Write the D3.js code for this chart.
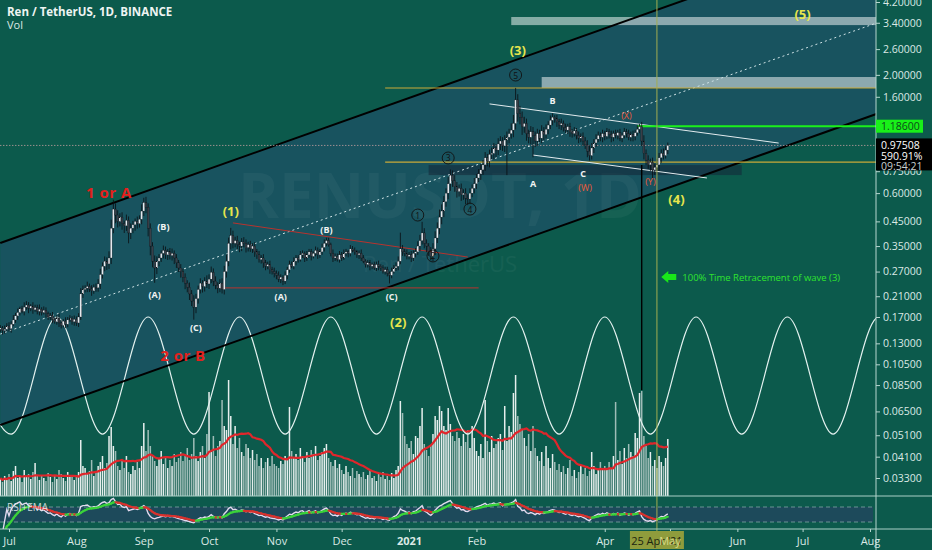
<!DOCTYPE html>
<html>
<head>
<meta charset="utf-8">
<script src="https://cdn.jsdelivr.net/npm/d3@7"></script>
<style>
body { margin: 0; background: #0c5a4c; overflow: hidden; }
svg { display: block; font-family: "Open Sans", "DejaVu Sans", sans-serif; }
</style>
</head>
<body>
<svg width="932" height="550"></svg>
<script>
// daily closes, REN/USDT from 27 Jun 2020
var closes = [
  0.152,0.148,0.150,0.155,
  // Jul
  0.151,0.158,0.165,0.172,0.178,0.185,0.180,0.188,0.192,0.186,0.190,0.183,0.187,0.180,0.184,0.178,0.182,0.176,0.170,0.172,0.166,0.162,0.168,0.160,0.156,0.163,0.158,0.165,0.168,0.162,0.166,
  // Aug
  0.160,0.170,0.215,0.225,0.228,0.232,0.226,0.222,0.230,0.229,0.238,0.262,0.285,0.300,0.292,0.310,0.420,0.510,0.48,0.45,0.47,0.44,0.43,0.455,0.40,0.42,0.435,0.45,0.44,0.46,0.50,
  // Sep
  0.545,0.52,0.42,0.35,0.30,0.28,0.30,0.31,0.325,0.335,0.32,0.33,0.318,0.325,0.31,0.295,0.28,0.27,0.255,0.24,0.23,0.215,0.20,0.188,0.205,0.225,0.24,0.232,0.245,0.238,
  // Oct
  0.25,0.268,0.245,0.235,0.228,0.24,0.225,0.27,0.30,0.36,0.39,0.36,0.37,0.355,0.35,0.365,0.36,0.345,0.355,0.34,0.35,0.33,0.32,0.305,0.31,0.295,0.285,0.29,0.275,0.27,0.265,
  // Nov
  0.26,0.25,0.255,0.245,0.26,0.275,0.29,0.285,0.30,0.31,0.305,0.32,0.325,0.31,0.32,0.33,0.315,0.325,0.335,0.32,0.33,0.345,0.36,0.37,0.355,0.325,0.31,0.315,0.305,0.32,
  // Dec
  0.31,0.325,0.33,0.325,0.34,0.335,0.33,0.32,0.325,0.31,0.30,0.29,0.295,0.285,0.29,0.28,0.29,0.285,0.28,0.27,0.275,0.265,0.26,0.27,0.28,0.285,0.30,0.34,0.33,0.325,0.315,
  // Jan 2021
  0.32,0.31,0.325,0.33,0.35,0.37,0.40,0.36,0.35,0.33,0.315,0.34,0.38,0.42,0.47,0.50,0.55,0.60,0.66,0.72,0.68,0.64,0.61,0.63,0.59,0.60,0.57,0.565,0.60,0.63,0.66,
  // Feb
  0.70,0.73,0.76,0.80,0.86,0.83,0.89,0.90,0.95,0.93,0.99,1.02,0.97,1.03,1.06,1.10,1.14,1.22,1.55,1.35,1.30,1.18,1.22,1.10,1.06,1.12,1.08,1.02,
  // Mar
  1.10,1.05,1.13,1.09,1.15,1.20,1.26,1.30,1.28,1.24,1.20,1.22,1.17,1.14,1.18,1.12,1.10,1.13,1.08,1.05,1.07,1.02,0.98,0.92,0.88,0.95,1.00,1.04,1.08,1.06,1.10,
  // Apr
  1.07,1.12,1.09,1.06,1.10,1.08,1.11,1.05,1.08,1.12,1.10,1.06,1.09,1.07,1.11,1.15,1.18,1.02,0.90,0.84,0.80,0.82,0.76,0.78,0.80,0.86,0.90,0.88,0.93,0.975
];

// upper / lower wick, percent beyond the body
var wickHi = [
  3,2,4,3,
  4,3,5,3,4,2,3,5,4,3,2,4,3,3,5,2,4,3,2,3,4,2,3,5,3,2,4,3,3,2,4,
  3,4,6,4,3,5,3,4,3,4,5,6,4,5,4,7,9,10,6,5,4,5,3,6,4,5,4,3,5,4,7,
  5,6,4,5,4,6,5,4,3,5,4,3,4,5,3,4,3,4,3,4,3,5,4,6,5,4,5,3,4,6,
  5,6,4,5,3,4,5,6,7,6,8,5,4,5,3,4,5,4,3,4,3,4,3,4,3,4,3,3,4,3,4,
  3,4,3,2,4,3,4,3,4,3,3,4,3,2,4,3,3,2,4,3,3,4,4,3,3,2,4,3,3,4,
  3,4,3,2,4,3,3,2,3,4,3,2,3,3,2,3,3,4,2,3,3,3,2,4,3,4,5,18,4,3,4,
  3,4,3,4,5,6,12,5,4,3,5,6,7,6,8,7,6,5,7,6,5,6,5,4,5,4,5,4,5,4,6,
  4,5,6,5,6,4,5,6,5,4,6,5,4,5,6,5,7,9,13,6,8,6,7,5,4,6,5,4,
  5,4,6,4,5,4,5,4,2,4,3,5,3,4,3,4,3,4,3,4,3,4,4,5,6,5,4,5,4,3,4,
  3,4,3,4,3,4,3,4,3,4,3,4,3,4,3,4,3,5,6,4,5,4,5,4,6,5,4,5,4,3
];
var wickLo = [
  3,4,3,2,
  3,4,2,3,4,3,2,4,3,5,3,4,2,3,4,3,2,4,3,3,4,2,3,4,3,2,4,3,2,3,4,
  3,4,3,4,3,4,3,5,3,4,4,5,4,5,6,5,6,5,8,6,5,6,7,5,10,6,5,6,5,4,5,
  5,6,8,9,6,14,6,5,4,5,4,5,4,5,6,5,4,6,5,6,5,6,5,12,6,5,4,6,5,4,
  5,4,5,4,5,4,4,5,6,5,6,5,4,5,6,5,4,5,4,3,4,5,4,3,4,5,4,3,4,3,4,
  4,3,4,4,3,4,3,2,3,4,3,2,3,4,3,3,4,2,3,4,3,3,4,3,2,3,4,3,2,3,
  3,2,3,4,3,2,3,3,4,3,2,3,3,4,3,2,3,4,3,2,3,3,8,3,2,3,4,3,4,3,3,
  3,4,3,4,3,5,4,5,6,4,4,5,6,5,6,7,6,5,6,7,6,5,6,5,6,5,6,6,5,4,5,
  5,4,6,5,6,5,6,5,6,7,5,6,5,6,30,6,5,7,6,8,7,8,6,7,6,7,20,6,
  5,4,5,6,4,5,4,5,4,5,4,5,4,3,4,5,4,3,4,5,4,5,4,6,5,4,5,4,3,4,5,
  4,3,4,5,4,3,4,3,4,3,4,3,4,5,4,3,4,5,6,5,4,6,8,5,4,6,5,4,3,4
];
var volumes = [
  18,14,20,16,
  22,15,25,30,18,20,14,26,19,22,17,24,33,20,16,21,18,15,23,19,14,20,17,26,22,18,15,24,19,21,16,
  20,24,56,30,28,22,25,36,20,24,30,34,40,28,33,60,69,50,45,30,26,35,28,40,24,22,30,26,34,28,50,
  73,45,66,50,40,35,30,38,45,32,40,28,36,30,42,34,38,44,35,40,48,36,42,58,40,35,44,50,38,62,
  104,45,60,40,50,55,96,70,66,116,80,52,70,48,58,44,40,52,48,38,46,36,42,30,38,28,34,38,30,40,32,
  30,28,35,32,40,36,89,45,38,42,36,48,40,34,44,38,46,42,50,36,40,44,48,52,38,34,30,36,28,32,
  26,22,30,24,20,28,18,25,22,19,24,17,21,26,18,20,15,22,19,24,17,20,16,23,18,26,30,95,83,60,52,
  48,55,42,60,58,70,88,52,46,40,50,62,80,76,90,85,70,66,88,72,60,55,64,58,50,62,54,66,48,70,58,
  45,40,52,38,96,55,44,60,48,52,58,62,46,90,55,70,64,103,121,80,72,66,58,50,62,45,70,48,
  40,35,44,30,50,38,28,42,34,26,32,24,30,22,28,36,20,26,18,24,30,22,28,20,25,44,30,22,26,34,28,
  30,26,34,28,40,94,36,45,32,48,38,52,44,40,63,58,103,105,60,50,38,44,30,36,28,40,34,30,38,57
];

var priceTicks = [4.2,3.4,2.6,2.0,1.6,0.75,0.6,0.45,0.35,0.27,0.21,0.17,0.13,0.105,0.085,0.065,0.051,0.041,0.033];
var monthTicks = ["2020-07-01","2020-08-01","2020-09-01","2020-10-01","2020-11-01","2020-12-01","2021-01-01","2021-02-01","2021-04-01","2021-05-01","2021-06-01","2021-07-01","2021-08-01"];

// time cycle: alternating crest / trough dates
var cycleDates = ["2020-06-11","2020-07-02","2020-07-23","2020-08-13","2020-09-03","2020-09-24","2020-10-15","2020-11-05","2020-11-26","2020-12-17","2021-01-07","2021-01-28","2021-02-18","2021-03-11","2021-04-01","2021-04-22","2021-05-13","2021-06-03","2021-06-24","2021-07-15","2021-08-05","2021-08-26"];
var cycleLevels = [0.17, 0.0516];

// drawn trendlines [date, price] pairs
var channelUpper = [["2020-06-27",0.361],["2021-08-04",8.57]];
var channelLower = [["2020-06-27",0.0566],["2021-08-04",1.343]];
var channelMid = [["2020-06-27",0.1429],["2021-08-04",3.392]];
var redTop = [["2020-10-12",0.443],["2021-01-28",0.313]];
var redBase = [["2020-10-06",0.2286],["2021-02-02",0.2286]];
var wedgeTop = [["2021-02-07",1.488],["2021-06-20",0.999]];
var wedgeBottom = [["2021-02-27",0.884],["2021-05-18",0.700]];
var goldLevels = [["2020-12-21",1.75],["2020-12-21",0.823]];
var greyZones = [["2021-02-17",3.32,3.605],["2021-03-03",1.75,1.957]];
var darkZone = ["2021-01-10","2021-06-03",0.721,0.798];
var greenLevel = ["2021-04-16",1.186];
var blackDrop = ["2021-04-18",0.798,0.0808];
var cursorDate = "2021-04-25";
var lastPrice = 0.97508;

var waveLabels = [
  ["(1)","2020-10-11",0.500,"major"],
  ["(2)","2020-12-27",0.161,"major"],
  ["(3)","2021-02-20",2.576,"major"],
  ["(4)","2021-05-04",0.565,"major"],
  ["(5)","2021-07-01",3.717,"major"],
  ["1 or A","2020-08-16",0.606,"alt"],
  ["2 or B","2020-09-19",0.1153,"alt"],
  ["(B)","2020-09-10",0.425,"minor"],
  ["(A)","2020-09-06",0.2147,"minor"],
  ["(C)","2020-09-25",0.1534,"minor"],
  ["(A)","2020-11-03",0.2084,"minor"],
  ["(B)","2020-11-24",0.416,"minor"],
  ["(C)","2020-12-24",0.2084,"minor"],
  ["B","2021-03-08",1.548,"minor"],
  ["A","2021-02-27",0.665,"minor"],
  ["C","2021-03-22",0.729,"minor"],
  ["(X)","2021-04-11",1.329,"wxy"],
  ["(W)","2021-03-23",0.638,"wxy"],
  ["(Y)","2021-04-22",0.672,"wxy"]
];
var circledLabels = [["1","2021-01-05",0.480],["2","2021-01-12",0.3164],["3","2021-01-19",0.858],["4","2021-01-29",0.510],["5","2021-02-19",1.997]];

var parse = d3.timeParse("%Y-%m-%d");
var start = parse("2020-06-27");
var dates = closes.map(function(c, i) { return d3.timeDay.offset(start, i); });

var svg = d3.select("svg");
var W = 876, mainBottom = 496, rsiBottom = 529;

var x = d3.scaleTime().domain([parse("2020-07-01"), parse("2021-08-01")]).range([9, 870]);
var y = d3.scaleLog().domain([0.033, 4.2]).range([478, 2]);
var yVol = d3.scaleLinear().domain([0, 125]).range([mainBottom, mainBottom - 125]);
var yRsi = d3.scaleLinear().domain([30, 70]).range([522, 507]);

var candles = closes.map(function(c, i) {
  var o = i ? closes[i - 1] : 0.150;
  return {
    date: dates[i], o: o, c: c, v: volumes[i],
    h: Math.max(o, c) * (1 + wickHi[i] / 100),
    l: Math.min(o, c) * (1 - wickLo[i] / 100)
  };
});

// volume SMA 20
candles.forEach(function(d, i) {
  var s = candles.slice(Math.max(0, i - 19), i + 1);
  d.ma = d3.mean(s, function(e) { return e.v; });
});

// RSI 14 (Wilder) and its EMA 9
var ag = 0, al = 0, ema = null;
candles.forEach(function(d, i) {
  if (i === 0) return;
  var ch = closes[i] - closes[i - 1];
  var n = Math.min(i, 14);
  ag = (ag * (n - 1) + Math.max(ch, 0)) / n;
  al = (al * (n - 1) + Math.max(-ch, 0)) / n;
  d.rsi = al === 0 ? 100 : 100 - 100 / (1 + ag / al);
  ema = ema === null ? d.rsi : ema + (d.rsi - ema) * 2 / 10;
  d.ema = ema;
});

var defs = svg.append("defs");
defs.append("clipPath").attr("id", "main").append("rect").attr("width", W).attr("height", mainBottom);
defs.append("clipPath").attr("id", "rsi").append("rect").attr("y", mainBottom).attr("width", W).attr("height", rsiBottom - mainBottom);

var pt = function(p) { return [x(parse(p[0])), y(p[1])]; };

var g = svg.append("g").attr("clip-path", "url(#main)");

// channel fill
g.append("path")
  .attr("d", d3.line()([pt(channelUpper[0]), pt(channelUpper[1]), pt(channelLower[1]), pt(channelLower[0])]) + "Z")
  .attr("fill", "#18535f");

// watermark
g.append("text").attr("x", 440).attr("y", 218).attr("text-anchor", "middle")
  .attr("font-size", 62).attr("font-weight", "bold").attr("fill", "#ffffff").attr("opacity", 0.04)
  .text("RENUSDT, 1D");
g.append("text").attr("x", 440).attr("y", 272).attr("text-anchor", "middle")
  .attr("font-size", 22).attr("fill", "#ffffff").attr("opacity", 0.04)
  .text("Ren / TetherUS");

// zones
greyZones.forEach(function(z) {
  g.append("rect").attr("x", x(parse(z[0]))).attr("y", y(z[2]))
    .attr("width", W - x(parse(z[0]))).attr("height", y(z[1]) - y(z[2]))
    .attr("fill", "#ffffff").attr("opacity", 0.5);
});
g.append("rect").attr("x", x(parse(darkZone[0]))).attr("y", y(darkZone[3]))
  .attr("width", x(parse(darkZone[1])) - x(parse(darkZone[0]))).attr("height", y(darkZone[2]) - y(darkZone[3]))
  .attr("fill", "#14293a").attr("opacity", 0.6);

// volume
g.selectAll(".vol").data(candles).enter().append("rect")
  .attr("x", function(d) { return x(d.date) - 0.75; })
  .attr("y", function(d) { return yVol(d.v); })
  .attr("width", 1.5)
  .attr("height", function(d) { return mainBottom - yVol(d.v); })
  .attr("fill", function(d) { return d.c >= d.o ? "#f1f7f5" : "#a6c2bd"; })
  .attr("opacity", 0.95);

g.append("path").datum(candles)
  .attr("d", d3.line().x(function(d) { return x(d.date); }).y(function(d) { return yVol(d.ma); }))
  .attr("fill", "none").attr("stroke", "#e0262b").attr("stroke-width", 2.2);

// time cycle
g.append("path").datum(cycleDates)
  .attr("d", d3.line().curve(d3.curveMonotoneX)
    .x(function(d) { return x(parse(d)); })
    .y(function(d, i) { return y(cycleLevels[i % 2]); }))
  .attr("fill", "none").attr("stroke", "#e4f2f0").attr("stroke-width", 1.2);

// trendlines
var seg = function(p, color, w, dash) {
  var a = pt(p[0]), b = pt(p[1]);
  g.append("line").attr("x1", a[0]).attr("y1", a[1]).attr("x2", b[0]).attr("y2", b[1])
    .attr("stroke", color).attr("stroke-width", w).attr("stroke-dasharray", dash || null);
};
seg(channelUpper, "#000000", 2);
seg(channelLower, "#000000", 2);
seg(channelMid, "#cfe3e6", 1, "2,3");
seg(redTop, "#b8332e", 1);
seg(redBase, "#b8332e", 1);
goldLevels.forEach(function(p) { seg([p, ["2021-08-04", p[1]]], "#c9aa38", 1.2); });
seg(wedgeTop, "#e2ebee", 1);
seg(wedgeBottom, "#e2ebee", 1);
seg([greenLevel, ["2021-08-04", greenLevel[1]]], "#1bf01b", 2);
seg([["2020-06-27", lastPrice], ["2021-08-04", lastPrice]], "#d8a8a8", 1, "1,2");
seg([[blackDrop[0], blackDrop[1]], [blackDrop[0], blackDrop[2]]], "#000000", 1.4);

// candles
var cg = g.append("g");
cg.selectAll(".wick").data(candles).enter().append("line")
  .attr("x1", function(d) { return x(d.date); }).attr("x2", function(d) { return x(d.date); })
  .attr("y1", function(d) { return y(d.h); }).attr("y2", function(d) { return y(d.l); })
  .attr("stroke", "#0a0c10").attr("stroke-width", 0.8);
cg.selectAll(".body").data(candles).enter().append("rect")
  .attr("x", function(d) { return x(d.date) - 0.95; })
  .attr("y", function(d) { return y(Math.max(d.o, d.c)); })
  .attr("width", 1.9)
  .attr("height", function(d) { return Math.max(0.8, Math.abs(y(d.o) - y(d.c))); })
  .attr("fill", function(d) { return d.c >= d.o ? "#e6e9ee" : "#3a3f48"; })
  .attr("stroke", "#0a0c10").attr("stroke-width", 0.25);

// wave labels
var labelStyle = {
  major: { size: 13, color: "#e6e54c", weight: "bold" },
  alt: { size: 15, color: "#e3211d", weight: "bold" },
  minor: { size: 9, color: "#f2f4f4", weight: "bold" },
  wxy: { size: 9, color: "#ec5a3a", weight: "normal" }
};
waveLabels.forEach(function(l) {
  var s = labelStyle[l[3]];
  g.append("text").attr("x", x(parse(l[1]))).attr("y", y(l[2]))
    .attr("text-anchor", "middle").attr("dominant-baseline", "central")
    .attr("font-size", s.size).attr("font-weight", s.weight).attr("fill", s.color)
    .attr("letter-spacing", l[3] === "alt" ? 0.5 : 0)
    .text(l[0]);
});
circledLabels.forEach(function(l) {
  var cx = x(parse(l[1])), cy = y(l[2]);
  g.append("circle").attr("cx", cx).attr("cy", cy).attr("r", 6)
    .attr("fill", "none").attr("stroke", "#111111").attr("stroke-width", 0.9);
  g.append("text").attr("x", cx).attr("y", cy).attr("text-anchor", "middle").attr("dominant-baseline", "central")
    .attr("font-size", 8.5).attr("fill", "#111111").text(l[0]);
});

// time retracement note
var ax = x(parse("2021-04-27")), ay = y(0.2554);
g.append("path")
  .attr("d", "M" + ax + "," + ay + "l7,-6v3h8v6h-8v3z")
  .attr("fill", "#19e619");
g.append("text").attr("x", ax + 21).attr("y", ay).attr("dominant-baseline", "central")
  .attr("font-size", 9.5).attr("fill", "#2fe32f")
  .text("100% Time Retracement of wave (3)");

// RSI pane
var rg = svg.append("g").attr("clip-path", "url(#rsi)");
rg.append("rect").attr("x", 0).attr("y", yRsi(70)).attr("width", W - 3).attr("height", yRsi(30) - yRsi(70))
  .attr("fill", "#1d4a5b");
[70, 30].forEach(function(v) {
  rg.append("line").attr("x1", 0).attr("x2", W - 3).attr("y1", yRsi(v)).attr("y2", yRsi(v))
    .attr("stroke", "#8fb0b0").attr("stroke-dasharray", "4,3").attr("opacity", 0.7);
});
var rsiData = candles.filter(function(d) { return d.rsi !== undefined; });
rg.append("path").datum(rsiData)
  .attr("d", d3.line().x(function(d) { return x(d.date); }).y(function(d) { return yRsi(d.rsi); }))
  .attr("fill", "none").attr("stroke", "#e3d9ef").attr("stroke-width", 1.4);
rg.selectAll(".ema").data(rsiData.slice(1)).enter().append("line")
  .attr("x1", function(d, i) { return x(rsiData[i].date); })
  .attr("y1", function(d, i) { return yRsi(rsiData[i].ema); })
  .attr("x2", function(d) { return x(d.date); })
  .attr("y2", function(d) { return yRsi(d.ema); })
  .attr("stroke", function(d, i) { return d.ema >= rsiData[i].ema ? "#3ad23a" : "#d8322e"; })
  .attr("stroke-width", 2.2).attr("stroke-linecap", "round");
svg.append("text").attr("x", 7).attr("y", 511).attr("font-size", 10).attr("fill", "#e8eef0").attr("opacity", 0.85)
  .text("RSI+EMA");

// cursor
var cx0 = x(parse(cursorDate));
svg.append("line").attr("x1", cx0).attr("x2", cx0).attr("y1", 0).attr("y2", rsiBottom + 2)
  .attr("stroke", "#a3ad52").attr("stroke-width", 1);

// pane borders
[mainBottom, rsiBottom].forEach(function(v) {
  svg.append("line").attr("x1", 0).attr("x2", 932).attr("y1", v).attr("y2", v)
    .attr("stroke", "#a9cfc6").attr("stroke-width", 1);
});
svg.append("line").attr("x1", W).attr("x2", W).attr("y1", 0).attr("y2", 550)
  .attr("stroke", "#b6d6cf").attr("stroke-width", 1);

// price axis
var yAxis = svg.append("g").attr("transform", "translate(" + W + ",0)")
  .call(d3.axisRight(y).tickValues(priceTicks).tickSize(4).tickFormat(d3.format(".5f")));
yAxis.select(".domain").remove();
yAxis.selectAll("line").attr("stroke", "#b6d6cf");
yAxis.selectAll("text").attr("fill", "#dbe9e5").attr("font-size", 10.5).attr("font-family", "Open Sans, sans-serif");

// green level tag
svg.append("rect").attr("x", W).attr("y", y(greenLevel[1]) - 6.5).attr("width", 47).attr("height", 13).attr("fill", "#19f019");
svg.append("text").attr("x", W + 5).attr("y", y(greenLevel[1])).attr("dominant-baseline", "central")
  .attr("font-size", 10.5).attr("fill", "#0d4a1a").text(d3.format(".5f")(greenLevel[1]));

// last price tag
var lp = y(lastPrice);
svg.append("rect").attr("x", W).attr("y", lp - 7).attr("width", 56).attr("height", 32).attr("fill", "#000000");
["0.97508", "590.91%", "09:54:21"].forEach(function(t, i) {
  svg.append("text").attr("x", W + 5).attr("y", lp + i * 10.3).attr("dominant-baseline", "central")
    .attr("font-size", 10.5).attr("fill", i === 2 ? "#c8d0d0" : "#ffffff").text(t);
});

// time axis
var xAxis = svg.append("g").attr("transform", "translate(0," + rsiBottom + ")")
  .call(d3.axisBottom(x).tickValues(monthTicks.map(parse)).tickSize(3)
    .tickFormat(function(d) { return d.getMonth() === 0 ? String(d.getFullYear()) : d3.timeFormat("%b")(d); }));
xAxis.select(".domain").remove();
xAxis.selectAll("line").attr("stroke", "#b6d6cf");
xAxis.selectAll("text").attr("fill", "#dbe9e5").attr("font-size", 11).attr("dy", "0.9em")
  .attr("font-family", "Open Sans, sans-serif")
  .attr("font-weight", function(d) { return d.getMonth() === 0 ? "bold" : "normal"; });

// cursor date tag
svg.append("rect").attr("x", cx0 - 27).attr("y", rsiBottom + 2).attr("width", 54).attr("height", 18).attr("fill", "#8f9c3c");
svg.append("text").attr("x", cx0).attr("y", rsiBottom + 11).attr("text-anchor", "middle").attr("dominant-baseline", "central")
  .attr("font-size", 11).attr("fill", "#1c2410").text("25 Apr '21");
svg.append("text").attr("x", x(parse("2021-05-01"))).attr("y", rsiBottom + 11).attr("text-anchor", "middle").attr("dominant-baseline", "central")
  .attr("font-size", 11).attr("fill", "#e9e79a").attr("opacity", 0.8).text("May");

// legend
svg.append("text").attr("x", 7).attr("y", 16).attr("font-size", 11.5).attr("font-weight", "bold").attr("fill", "#eef4f2")
  .text("Ren / TetherUS, 1D, BINANCE");
svg.append("text").attr("x", 7).attr("y", 29).attr("font-size", 11).attr("fill", "#dbe9e5").text("Vol");
</script>
</body>
</html>
